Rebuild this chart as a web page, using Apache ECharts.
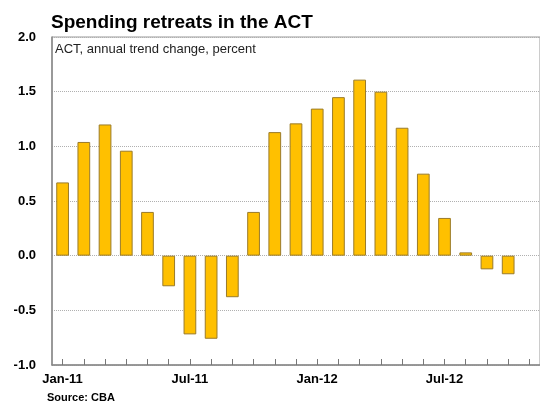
<!DOCTYPE html>
<html>
<head>
<meta charset="utf-8">
<script src="https://cdn.jsdelivr.net/npm/echarts@6/dist/echarts.min.js"></script>
<style>
  html, body { margin: 0; padding: 0; background: #fff; }
  #chart { width: 540px; height: 405px; }
</style>
</head>
<body>
<div id="chart"></div>
<script>
// monthly categories, Jan-11 .. Nov-12 (last one has no data)
var months = ['Jan-11', 'Feb-11', 'Mar-11', 'Apr-11', 'May-11', 'Jun-11',
  'Jul-11', 'Aug-11', 'Sep-11', 'Oct-11', 'Nov-11', 'Dec-11',
  'Jan-12', 'Feb-12', 'Mar-12', 'Apr-12', 'May-12', 'Jun-12',
  'Jul-12', 'Aug-12', 'Sep-12', 'Oct-12', 'Nov-12']
var spending = [0.67, 1.04, 1.20, 0.96, 0.40, -0.28,
  -0.72, -0.76, -0.38, 0.40, 1.13, 1.21,
  1.345, 1.45, 1.61, 1.50, 1.17, 0.75,
  0.345, 0.03, -0.125, -0.17, null]
var yTicks = [-1.0, -0.5, 0.0, 0.5, 1.0, 1.5, 2.0]

var chart = echarts.init(document.getElementById('chart'))
chart.setOption({
  animation: false,
  textStyle: { fontFamily: 'Liberation Sans, Arial, sans-serif' },
  title: {
    text: 'Spending retreats in the ACT',
    left: 46,
    top: 8,
    textStyle: { fontSize: 19, fontWeight: 'bold', color: '#000' }
  },
  graphic: [
    {
      type: 'text', left: 55, top: 43,
      style: { text: 'ACT, annual trend change, percent', fontSize: 13, fill: '#222',
        fontFamily: 'Liberation Sans, Arial, sans-serif' }
    },
    {
      type: 'text', left: 47, top: 392,
      style: { text: 'Source: CBA', fontSize: 11, fontWeight: 'bold', fill: '#000',
        fontFamily: 'Liberation Sans, Arial, sans-serif' }
    }
  ],
  grid: {
    left: 52,
    right: -3,
    top: 37,
    bottom: 40,
    show: true,
    borderColor: '#999',
    borderWidth: 1
  },
  xAxis: {
    type: 'category',
    data: months,
    boundaryGap: true,
    axisLine: { show: true, onZero: false, lineStyle: { color: '#888', width: 1.5 } },
    axisTick: {
      show: true,
      alignWithLabel: true,
      interval: 0,
      inside: true,
      length: 6,
      lineStyle: { color: '#777', width: 1 }
    },
    axisLabel: {
      interval: 5,
      margin: 8,
      fontSize: 13,
      fontWeight: 'bold',
      color: '#000'
    }
  },
  yAxis: {
    type: 'value',
    min: yTicks[0],
    max: yTicks[yTicks.length - 1],
    interval: 0.5,
    axisLine: { show: true, lineStyle: { color: '#888', width: 1.5 } },
    axisTick: { show: false },
    splitLine: { lineStyle: { color: '#b0b0b0', type: 'dotted' } },
    axisLabel: {
      margin: 16,
      fontSize: 13,
      fontWeight: 'bold',
      color: '#000',
      formatter: function (v) { return v.toFixed(1) }
    }
  },
  series: [{
    type: 'bar',
    data: spending,
    barWidth: '60%',
    itemStyle: {
      color: '#FFC000',
      borderColor: '#9A7B2A',
      borderWidth: 1
    }
  }]
})
</script>
</body>
</html>
